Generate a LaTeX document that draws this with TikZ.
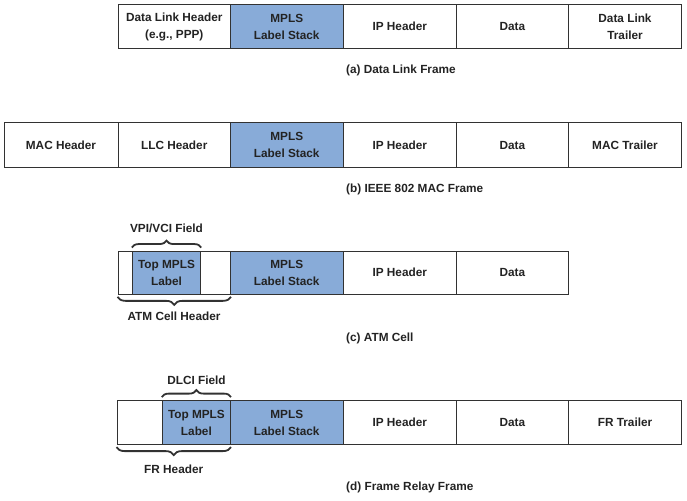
\documentclass[tikz,border=0pt]{standalone}
\usepackage{fontspec}
\setmainfont{Liberation Sans}
\usetikzlibrary{decorations.pathreplacing}
\definecolor{mplsblue}{RGB}{136,171,216}
\definecolor{framegray}{RGB}{50,50,50}
\definecolor{textgray}{RGB}{35,35,35}
\tikzset{
  cell/.style={draw=framegray, line width=1pt, fill=white, inner sep=0pt,
    text=textgray, align=center,
    font=\bfseries\fontsize{11.8}{17}\selectfont},
  bluecell/.style={cell, fill=mplsblue},
  caption/.style={text=textgray, inner sep=0pt, anchor=west,
    font=\bfseries\fontsize{11.8}{17}\selectfont},
  bracelabel/.style={text=textgray, inner sep=0pt,
    font=\bfseries\fontsize{11.8}{17}\selectfont},
  bracestyle/.style={draw=framegray, line width=1.8pt,
    decorate, decoration={brace, amplitude=7pt}},
}
\begin{document}
\begin{tikzpicture}[x=1pt,y=1pt]
\useasboundingbox (0,0) rectangle (687,-500);

% (a) Data Link Frame
\node[cell, minimum width=112.5pt, minimum height=44pt] (a1) at (174.25,-26.7) {Data Link Header\\(e.g., PPP)};
\node[bluecell, minimum width=112.5pt, minimum height=44pt] (a2) at (286.75,-26.7) {MPLS\\Label Stack};
\node[cell, minimum width=113.5pt, minimum height=44pt] (a3) at (399.75,-26.7) {IP Header};
\node[cell, minimum width=111.8pt, minimum height=44pt] (a4) at (512.4,-26.7) {Data};
\node[cell, minimum width=113.4pt, minimum height=44pt] (a5) at (625,-26.7) {Data Link\\Trailer};
\node[caption] (acap) at (346,-70) {(a) Data Link Frame};

% (b) IEEE 802 MAC Frame
\node[cell, minimum width=114pt, minimum height=44.6pt] (b1) at (61,-145) {MAC Header};
\node[cell, minimum width=112.5pt, minimum height=44.6pt] (b2) at (174.25,-145) {LLC Header};
\node[bluecell, minimum width=112.5pt, minimum height=44.6pt] (b3) at (286.75,-145) {MPLS\\Label Stack};
\node[cell, minimum width=113.5pt, minimum height=44.6pt] (b4) at (399.75,-145) {IP Header};
\node[cell, minimum width=111.8pt, minimum height=44.6pt] (b5) at (512.4,-145) {Data};
\node[cell, minimum width=113.4pt, minimum height=44.6pt] (b6) at (625,-145) {MAC Trailer};
\node[caption] (bcap) at (346,-189) {(b) IEEE 802 MAC Frame};

% (c) ATM Cell
\node[cell, minimum width=14.3pt, minimum height=43.3pt] (c1) at (125.15,-272.7) {};
\node[bluecell, minimum width=68.4pt, minimum height=43.3pt] (c2) at (166.5,-272.7) {Top MPLS\\Label};
\node[cell, minimum width=29.8pt, minimum height=43.3pt] (c3) at (215.6,-272.7) {};
\node[bluecell, minimum width=112.5pt, minimum height=43.3pt] (c4) at (286.75,-272.7) {MPLS\\Label Stack};
\node[cell, minimum width=113.5pt, minimum height=43.3pt] (c5) at (399.75,-272.7) {IP Header};
\node[cell, minimum width=111.8pt, minimum height=43.3pt] (c6) at (512.4,-272.7) {Data};
\draw[bracestyle] ([yshift=3pt]c2.north west) -- ([yshift=3pt]c2.north east);
\node[bracelabel] (cvpi) at (166.5,-228.3) {VPI/VCI Field};
\draw[bracestyle, decoration={brace, amplitude=8pt, mirror}] ([yshift=-2pt]c1.south west) -- ([yshift=-2pt]c3.south east);
\node[bracelabel] (catm) at (174,-316.7) {ATM Cell Header};
\node[caption] (ccap) at (346,-338) {(c) ATM Cell};

% (d) Frame Relay Frame
\node[cell, minimum width=45.3pt, minimum height=44pt] (d1) at (139.65,-422.6) {};
\node[bluecell, minimum width=68.2pt, minimum height=44pt] (d2) at (196.4,-422.6) {Top MPLS\\Label};
\node[bluecell, minimum width=112.5pt, minimum height=44pt] (d3) at (286.75,-422.6) {MPLS\\Label Stack};
\node[cell, minimum width=113.5pt, minimum height=44pt] (d4) at (399.75,-422.6) {IP Header};
\node[cell, minimum width=111.8pt, minimum height=44pt] (d5) at (512.4,-422.6) {Data};
\node[cell, minimum width=113.4pt, minimum height=44pt] (d6) at (625,-422.6) {FR Trailer};
\draw[bracestyle] ([yshift=3pt]d2.north west) -- ([yshift=3pt]d2.north east);
\node[bracelabel] (ddlci) at (196.5,-380) {DLCI Field};
\draw[bracestyle, decoration={brace, amplitude=8pt, mirror}] ([yshift=-2pt]d1.south west) -- ([yshift=-2pt]d2.south east);
\node[bracelabel] (dfr) at (173.7,-469) {FR Header};
\node[caption] (dcap) at (346,-487.3) {(d) Frame Relay Frame};

\end{tikzpicture}
\end{document}
